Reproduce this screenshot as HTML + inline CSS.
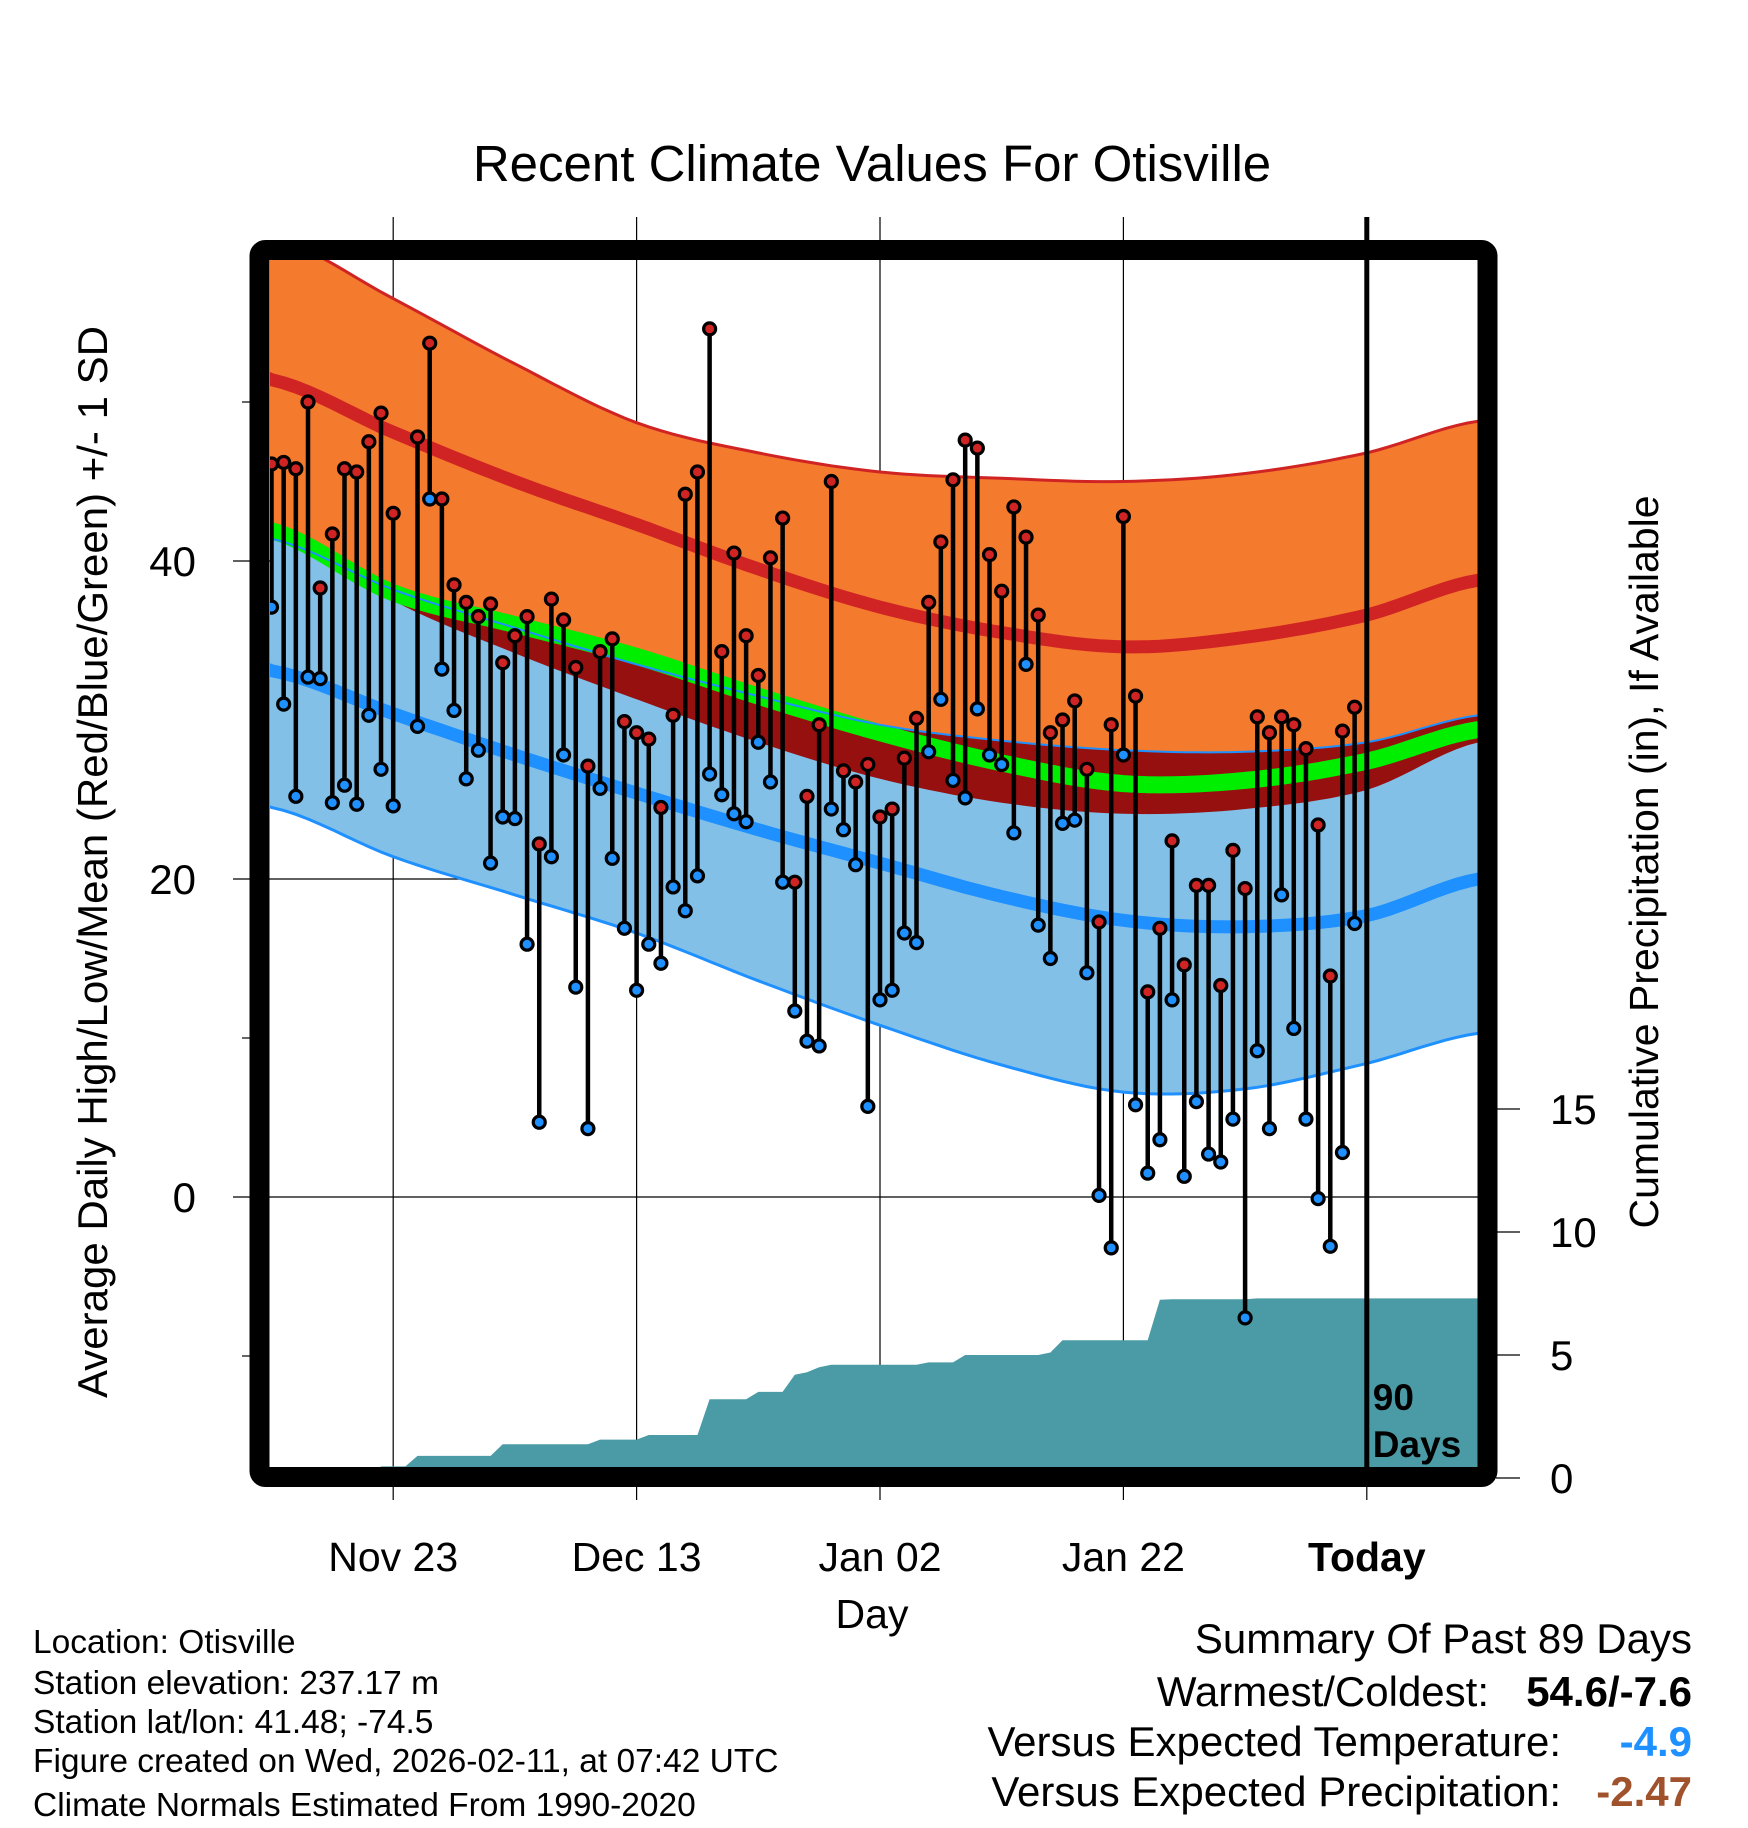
<!DOCTYPE html>
<html><head><meta charset="utf-8"><style>
html,body{margin:0;padding:0;background:#fff;}
svg{display:block;font-family:"Liberation Sans",sans-serif;}
</style></head><body>
<svg id="chart" width="1748" height="1828" viewBox="0 0 1748 1828" xmlns="http://www.w3.org/2000/svg">
<defs><clipPath id="plotclip"><rect x="270" y="260" width="1208" height="1208"/></clipPath></defs>
<rect width="1748" height="1828" fill="#fff"/>
<text x="872" y="181" font-size="51" text-anchor="middle">Recent Climate Values For Otisville</text>
<g id="grid"></g>
<g id="plot" clip-path="url(#plotclip)"></g>
<g id="over"></g>
<rect x="259.5" y="250" width="1228" height="1227" rx="6" fill="none" stroke="#000" stroke-width="20"/>
<text transform="translate(107,862) rotate(-90)" font-size="42" text-anchor="middle">Average Daily High/Low/Mean (Red/Blue/Green) +/- 1 SD</text>
<text transform="translate(1658,862) rotate(-90)" font-size="41" text-anchor="middle">Cumulative Precipitation (in), If Available</text>
<text x="872" y="1628" font-size="41" text-anchor="middle">Day</text>
<g font-size="33.5">
<text x="33" y="1653">Location: Otisville</text>
<text x="33" y="1694">Station elevation: 237.17 m</text>
<text x="33" y="1733">Station lat/lon: 41.48; -74.5</text>
<text x="33" y="1772">Figure created on Wed, 2026-02-11, at 07:42 UTC</text>
<text x="33" y="1816">Climate Normals Estimated From 1990-2020</text>
</g>
<g font-size="42" text-anchor="end">
<text x="1692" y="1653">Summary Of Past 89 Days</text>
<text x="1489" y="1706">Warmest/Coldest:</text>
<text x="1692" y="1706" font-weight="bold">54.6/-7.6</text>
<text x="1561" y="1756">Versus Expected Temperature:</text>
<text x="1692" y="1756" font-weight="bold" fill="#1E90FF">-4.9</text>
<text x="1561" y="1806">Versus Expected Precipitation:</text>
<text x="1692" y="1806" font-weight="bold" fill="#A0522D">-2.47</text>
</g>
</svg>
<script>
const highs=[46.1,46.2,45.8,50.0,38.3,41.7,45.8,45.6,47.5,49.3,43.0,null,47.8,53.7,43.9,38.5,37.4,36.5,37.3,33.6,35.3,36.5,22.2,37.6,36.3,33.3,27.1,34.3,35.1,29.9,29.2,28.8,24.5,30.3,44.2,45.6,54.6,34.3,40.5,35.3,32.8,40.2,42.7,19.8,25.2,29.7,45.0,26.8,26.1,27.2,23.9,24.4,27.6,30.1,37.4,41.2,45.1,47.6,47.1,40.4,38.1,43.4,41.5,36.6,29.2,30.0,31.2,26.9,17.3,29.7,42.8,31.5,12.9,16.9,22.4,14.6,19.6,19.6,13.3,21.8,19.4,30.2,29.2,30.2,29.7,28.2,23.4,13.9,29.3,30.8];
const lows=[37.1,31.0,25.2,32.7,32.6,24.8,25.9,24.7,30.3,26.9,24.6,null,29.6,43.9,33.2,30.6,26.3,28.1,21.0,23.9,23.8,15.9,4.7,21.4,27.8,13.2,4.3,25.7,21.3,16.9,13.0,15.9,14.7,19.5,18.0,20.2,26.6,25.3,24.1,23.6,28.6,26.1,19.8,11.7,9.8,9.5,24.4,23.1,20.9,5.7,12.4,13.0,16.6,16.0,28.0,31.3,26.2,25.1,30.7,27.8,27.2,22.9,33.5,17.1,15.0,23.5,23.7,14.1,0.1,-3.2,27.8,5.8,1.5,3.6,12.4,1.3,6.0,2.7,2.2,4.9,-7.6,9.2,4.3,19.0,10.6,4.9,-0.1,-3.1,2.8,17.2];
const precip=[0,0,0,0,0,0,0,0,0,0.47,0.47,0.47,0.9,0.9,0.9,0.9,0.9,0.9,0.9,1.37,1.37,1.37,1.37,1.37,1.37,1.37,1.37,1.56,1.56,1.56,1.56,1.75,1.75,1.75,1.75,1.75,3.2,3.2,3.2,3.2,3.5,3.5,3.5,4.2,4.3,4.5,4.6,4.6,4.6,4.6,4.6,4.6,4.6,4.6,4.7,4.7,4.7,5.0,5.0,5.0,5.0,5.0,5.0,5.0,5.1,5.6,5.6,5.6,5.6,5.6,5.6,5.6,5.6,7.25,7.27,7.27,7.27,7.27,7.27,7.27,7.27,7.3,7.3,7.3,7.3,7.3,7.3,7.3,7.3,7.3];
const normDays=[0,10,20,30,40,50,60,70,80,90,99.2];
const hiPlusSd=[60.4,56.5,52.4,48.7,46.8,45.6,45.2,45.0,45.5,46.8,48.8];
const meanHigh=[51.4,48.1,45.0,42.3,39.5,37.1,35.5,34.6,35.2,36.6,38.8];
const hiMinusSd=[42.2,37.5,34.2,31.3,28.6,26.3,24.8,24.1,24.4,25.6,28.6];
const meanTemp=[41.9,38.0,36.0,34.0,31.5,29.2,27.3,26.0,26.2,27.4,29.4];
const loPlusSd=[41.4,38.2,35.8,33.5,31.5,29.7,28.7,28.1,28.0,28.6,30.3];
const meanLow=[33.1,30.4,27.8,25.4,23.1,21.0,18.9,17.4,17.0,17.7,20.0];
const loMinusSd=[24.5,21.4,19.0,16.6,13.6,10.8,8.3,6.6,6.8,8.4,10.3];
const xTickDays=[10,30,50,70,90];
const xTickLabels=["Nov 23","Dec 13","Jan 02","Jan 22","Today"];
const yTicks=[0,20,40];
const yMinor=[-10,10,50];
const pTicks=[0,5,10,15];

const NS="http://www.w3.org/2000/svg";
const X=d=>271.5+d*12.17;
const Y=v=>1197-v*15.9;
const P=p=>1478-p*24.6;
function mk(parent,tag,attrs){const e=document.createElementNS(NS,tag);for(const k in attrs)e.setAttribute(k,attrs[k]);parent.appendChild(e);return e;}
function sample(vals){const pts=[];const n=normDays.length;
 for(let i=0;i<n-1;i++){const p0=vals[Math.max(0,i-1)],p1=vals[i],p2=vals[i+1],p3=vals[Math.min(n-1,i+2)];
  const d0=normDays[i],d1=normDays[i+1];
  for(let s=0;s<10;s++){const t=s/10;const t2=t*t,t3=t2*t;
   const v=0.5*((2*p1)+(-p0+p2)*t+(2*p0-5*p1+4*p2-p3)*t2+(-p0+3*p1-3*p2+p3)*t3);
   pts.push([d0+(d1-d0)*t,v]);}}
 pts.push([normDays[n-1],vals[n-1]]);pts.unshift([-1,vals[0]+(vals[0]-vals[1])/10]);return pts;}
const line=pts=>pts.map((p,i)=>(i?'L':'M')+X(p[0]).toFixed(1)+','+Y(p[1]).toFixed(1)).join('');
function sample0(b){return b.slice().reverse().map(p=>'L'+X(p[0]).toFixed(1)+','+Y(p[1]).toFixed(1)).join('')+'Z';}

const grid=document.getElementById('grid'),plot=document.getElementById('plot'),over=document.getElementById('over');
xTickDays.forEach((d,i)=>{
 const g=mk(grid,'line',{x1:X(d),x2:X(d),y1:217,y2:1500,stroke:'#000','stroke-width':1.2});
 
 
 const t=mk(grid,'text',{x:X(d),y:1571,'font-size':41,'text-anchor':'middle'});
 
 
 if(xTickLabels[i]==='Today')t.setAttribute('font-weight','bold');
 t.textContent=xTickLabels[i];
});
yTicks.forEach(v=>{
 const g=mk(grid,'line',{x1:233,x2:1478,y1:Y(v),y2:Y(v),stroke:'#000','stroke-width':1.2});
 
 
 const t=mk(grid,'text',{x:196,y:Y(v)+15,'font-size':42,'text-anchor':'end'});
 
 
 t.textContent=v;
});
yMinor.forEach(v=>{
 const g=mk(grid,'line',{x1:242,x2:252,y1:Y(v),y2:Y(v),stroke:'#000','stroke-width':1.2});
 
 
});
pTicks.forEach(p=>{
 const g=mk(grid,'line',{x1:1496,x2:1520,y1:P(p),y2:P(p),stroke:'#000','stroke-width':1.2});
 
 
 const t=mk(grid,'text',{x:1550,y:P(p)+15,'font-size':42});
 
 
 t.textContent=p;
});

const sHP=sample(hiPlusSd),sHM=sample(hiMinusSd),sLP=sample(loPlusSd),sLM=sample(loMinusSd);
let e;
e=mk(plot,'path',{d:line(sHP)+sample0(sHM),fill:'#F47A2D'});


e=mk(plot,'path',{d:line(sLP)+sample0(sLM),fill:'#82C0E8'});


const ov=sLP.map((p,i)=>[p[0],Math.min(sHM[i][1],p[1])]);
e=mk(plot,'path',{d:line(sLP)+sample0(ov),fill:'#961010'});


e=mk(plot,'path',{d:line(sample(meanTemp)),fill:'none',stroke:'#00EE00','stroke-width':17});


e=mk(plot,'path',{d:line(sample(meanHigh)),fill:'none',stroke:'#D02424','stroke-width':13});


e=mk(plot,'path',{d:line(sample(meanLow)),fill:'none',stroke:'#1E90FF','stroke-width':13});


e=mk(plot,'path',{d:line(sHP),fill:'none',stroke:'#D02424','stroke-width':3});


e=mk(plot,'path',{d:line(sLP),fill:'none',stroke:'#1E90FF','stroke-width':2});


e=mk(plot,'path',{d:line(sLM),fill:'none',stroke:'#1E90FF','stroke-width':3});



let pd='M'+X(0)+','+P(0);
precip.forEach((p,i)=>{pd+='L'+X(i).toFixed(1)+','+P(p).toFixed(1);});
pd+='L'+X(100)+','+P(precip[precip.length-1]).toFixed(1)+'L'+X(100)+','+P(-1)+'L'+X(-1)+','+P(-1)+'Z';
e=mk(plot,'path',{d:pd,fill:'#4A9BA5'});



highs.forEach((h,i)=>{
 const l=lows[i]; if(h===null||l===null)return;
 const s=mk(plot,'line',{x1:X(i),x2:X(i),y1:Y(h),y2:Y(l),stroke:'#000','stroke-width':4.5});
 
 
});
highs.forEach((h,i)=>{
 const l=lows[i]; if(h===null||l===null)return;
 const c1=mk(plot,'circle',{cx:X(i),cy:Y(h),r:6,fill:'#D02424',stroke:'#000','stroke-width':3.2});
 
 
 const c2=mk(plot,'circle',{cx:X(i),cy:Y(l),r:6,fill:'#1E90FF',stroke:'#000','stroke-width':3.2});
 
 
});

e=mk(over,'line',{x1:X(90),x2:X(90),y1:217,y2:1468,stroke:'#000','stroke-width':5});


e=mk(over,'text',{x:X(90)+6,y:1410,'font-size':37,'font-weight':'bold'});


e.textContent='90';
e=mk(over,'text',{x:X(90)+6,y:1457,'font-size':37,'font-weight':'bold'});


e.textContent='Days';
</script>
</body></html>
